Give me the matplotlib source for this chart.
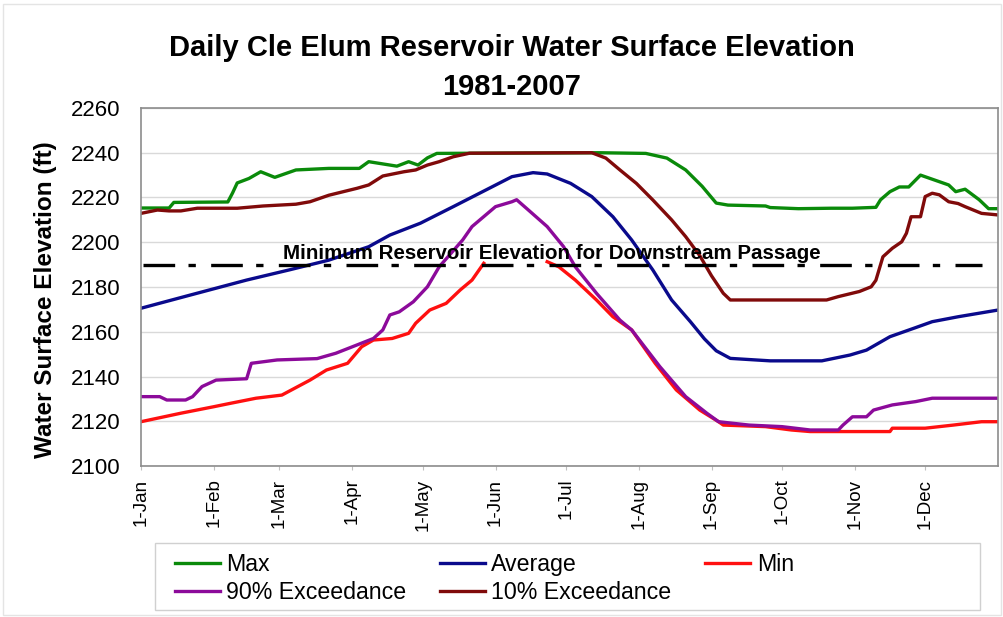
"""Daily Cle Elum Reservoir water surface elevation, 1981-2007."""

import matplotlib
matplotlib.use("Agg")

import matplotlib.pyplot as plt
import numpy as np
from matplotlib.patches import Rectangle

plt.rcParams["font.family"] = ["Liberation Sans", "DejaVu Sans"]

# ── Data (day of year, 0 = 1-Jan) ──────────────────────────────────────────

MONTH_DAYS = [0, 31, 59, 90, 120, 151, 181, 212, 243, 273, 304, 334]
MONTH_LABELS = ["1-Jan", "1-Feb", "1-Mar", "1-Apr", "1-May", "1-Jun",
                "1-Jul", "1-Aug", "1-Sep", "1-Oct", "1-Nov", "1-Dec"]

MAX_DAY = [0, 12, 14, 37, 39, 41, 46, 51, 57, 66, 80, 93, 97, 103, 109, 114,
           118, 122, 126, 195, 215, 224, 232, 239, 245, 250, 266, 268, 280,
           294, 303, 313, 315, 319, 323, 327, 332, 344, 347, 351, 357, 361, 365]
MAX_FT = [2215.3, 2215.3, 2217.8, 2218.0, 2222.0, 2226.5, 2228.5, 2231.5,
          2229.0, 2232.3, 2233.0, 2233.0, 2236.0, 2235.0, 2234.0, 2236.0,
          2234.5, 2237.7, 2239.7, 2240.0, 2239.7, 2237.6, 2232.3, 2225.0,
          2217.5, 2216.6, 2216.2, 2215.5, 2215.0, 2215.2, 2215.2, 2215.6,
          2219.0, 2222.6, 2224.7, 2224.7, 2230.0, 2225.6, 2222.6, 2223.7,
          2219.0, 2215.0, 2215.0]

AVG_DAY = [0, 21, 45, 63, 80, 97, 106, 119, 133, 147, 158, 167, 173, 183,
           192, 201, 209, 218, 226, 234, 240, 245, 251, 268, 290, 302, 309,
           319, 329, 337, 348, 365]
AVG_FT = [2170.5, 2176.4, 2183.1, 2187.6, 2192.0, 2198.0, 2203.2, 2208.5,
          2215.9, 2223.4, 2229.3, 2231.1, 2230.5, 2226.3, 2220.4, 2211.4,
          2201.0, 2187.6, 2174.2, 2164.5, 2156.8, 2151.5, 2148.1, 2147.0,
          2147.0, 2149.6, 2151.8, 2157.8, 2161.5, 2164.5, 2166.7, 2169.7]

MIN_DAY = [0, 17, 31, 38, 49, 60, 72, 79, 88, 94, 99, 107, 114, 117, 123,
           130, 136, 141, 146, 160, 173, 178, 185, 194, 201, 209, 219, 228,
           238, 246, 248, 266, 277, 285, 319, 320, 334, 346, 358, 365]
MIN_FT = [2119.8, 2123.6, 2126.5, 2128.0, 2130.3, 2131.7, 2138.4, 2142.9,
          2145.9, 2153.3, 2156.3, 2157.0, 2159.3, 2163.8, 2169.7, 2172.7,
          2178.7, 2183.1, 2190.6, np.nan, 2191.3, 2189.0, 2183.1, 2174.2,
          2166.7, 2160.8, 2145.9, 2134.0, 2125.0, 2119.8, 2118.3, 2117.6,
          2116.1, 2115.4, 2115.4, 2116.9, 2116.9, 2118.3, 2119.8, 2119.8]

P90_DAY = [0, 8, 11, 19, 22, 26, 32, 45, 47, 58, 75, 83, 92, 99, 103, 106,
           110, 116, 122, 127, 137, 141, 151, 158, 160, 165, 173, 180, 185,
           194, 204, 209, 221, 232, 241, 246, 259, 273, 285, 297, 299, 303,
           309, 312, 320, 330, 337, 365]
P90_FT = [2131.0, 2131.0, 2129.5, 2129.5, 2131.0, 2135.5, 2138.4, 2139.0,
          2145.9, 2147.4, 2148.0, 2150.4, 2154.1, 2157.0, 2160.8, 2167.5,
          2168.9, 2173.4, 2180.1, 2189.0, 2201.0, 2207.0, 2215.9, 2218.1,
          2219.0, 2214.4, 2207.0, 2198.0, 2189.0, 2177.2, 2165.2, 2160.8,
          2144.4, 2131.0, 2123.6, 2119.8, 2118.3, 2117.6, 2116.1, 2116.1,
          2118.3, 2122.0, 2122.0, 2125.0, 2127.3, 2128.8, 2130.3, 2130.3]

P10_DAY = [0, 7, 12, 17, 24, 41, 52, 66, 72, 80, 92, 97, 103, 112, 117, 122,
           127, 133, 140, 192, 198, 204, 211, 218, 226, 232, 238, 243, 248,
           251, 292, 297, 306, 311, 313, 316, 320, 324, 326, 328, 332, 334,
           337, 340, 344, 348, 351, 358, 365]
P10_FT = [2212.9, 2214.4, 2214.0, 2214.0, 2215.2, 2215.2, 2216.2, 2217.0,
          2218.1, 2221.0, 2224.1, 2225.6, 2229.6, 2231.5, 2232.3, 2234.5,
          2236.0, 2238.2, 2239.8, 2240.0, 2237.6, 2232.3, 2226.3, 2218.9,
          2210.0, 2202.5, 2194.0, 2185.0, 2177.2, 2174.2, 2174.2, 2175.7,
          2178.0, 2180.1, 2183.0, 2193.5, 2197.3, 2200.2, 2204.0, 2211.4,
          2211.4, 2220.4, 2221.9, 2221.2, 2218.1, 2217.3, 2215.9, 2212.9,
          2212.2]

PASSAGE_FT = 2190
PASSAGE_DAYS = [1, 358]

COLORS = {
    "max": "#0a8a0a",
    "avg": "#0a0a8c",
    "min": "#ff1010",
    "p90": "#8c0a9a",
    "p10": "#800a0a",
    "grid": "#d9d9d9",
    "frame": "#8c8c8c",
}

# ── Figure ─────────────────────────────────────────────────────────────────

fig = plt.figure(figsize=(10.04, 6.17), dpi=100)
ax = fig.add_axes([0.1404, 0.2447, 0.8536, 0.5803])

lw = 2.4
l_max, = ax.plot(MAX_DAY, MAX_FT, color=COLORS["max"], lw=lw, label="Max")
l_avg, = ax.plot(AVG_DAY, AVG_FT, color=COLORS["avg"], lw=lw, label="Average")
l_min, = ax.plot(MIN_DAY, MIN_FT, color=COLORS["min"], lw=lw, label="Min")
l_p90, = ax.plot(P90_DAY, P90_FT, color=COLORS["p90"], lw=lw, label="90% Exceedance")
l_p10, = ax.plot(P10_DAY, P10_FT, color=COLORS["p10"], lw=lw, label="10% Exceedance")

ax.plot(PASSAGE_DAYS, [PASSAGE_FT] * 2, color="black", lw=2.4,
        linestyle=(0, (9.5, 4.0, 2.2, 4.6)), zorder=5)
ax.text(175, PASSAGE_FT + 2.6, "Minimum Reservoir Elevation for Downstream Passage",
        ha="center", va="baseline", fontsize=14.8, fontweight="bold", zorder=6)

ax.set_xlim(0, 365)
ax.set_ylim(2100, 2260)
ax.set_yticks(np.arange(2100, 2261, 20))
ax.tick_params(axis="y", labelsize=16, length=0, pad=15)
ax.set_xticks(MONTH_DAYS)
ax.set_xticklabels(MONTH_LABELS, rotation=90, fontsize=13.5)
ax.tick_params(axis="x", length=3, color="#c0c0c0", pad=6)
ax.grid(True, axis="y", color=COLORS["grid"], lw=1)
ax.set_axisbelow(True)
for s in ax.spines.values():
    s.set_color(COLORS["frame"])
    s.set_linewidth(1.2)

ax.set_ylabel("Water Surface Elevation (ft)", fontsize=17.5, fontweight="bold")
ax.yaxis.set_label_coords(-0.098, 0.465)

fig.text(0.51, 0.89, "Daily Cle Elum Reservoir Water Surface Elevation\n1981-2007",
         ha="center", va="center", fontsize=21, fontweight="bold", linespacing=1.5)

# Legend box drawn as a plain rectangle, entries placed inside it
fig.patches.append(Rectangle((0.154, 0.012), 0.822, 0.108, transform=fig.transFigure,
                             facecolor="white", edgecolor="#d0d0d0", lw=1))
fig.legend([l_max, l_p90, l_avg, l_p10, l_min],
           ["Max", "90% Exceedance", "Average", "10% Exceedance", "Min"],
           ncol=3, loc="upper left", bbox_to_anchor=(0.174, 0.103),
           frameon=False, fontsize=16.7, handlelength=1.95, handletextpad=0.27,
           columnspacing=1.45, labelspacing=0.2, borderaxespad=0, borderpad=0)

# faint outer chart border
fig.patches.append(Rectangle((0.003, 0.004), 0.994, 0.99, transform=fig.transFigure,
                             fill=False, edgecolor="#e4e4e4", lw=1))

fig.savefig("out.png", dpi=100)
